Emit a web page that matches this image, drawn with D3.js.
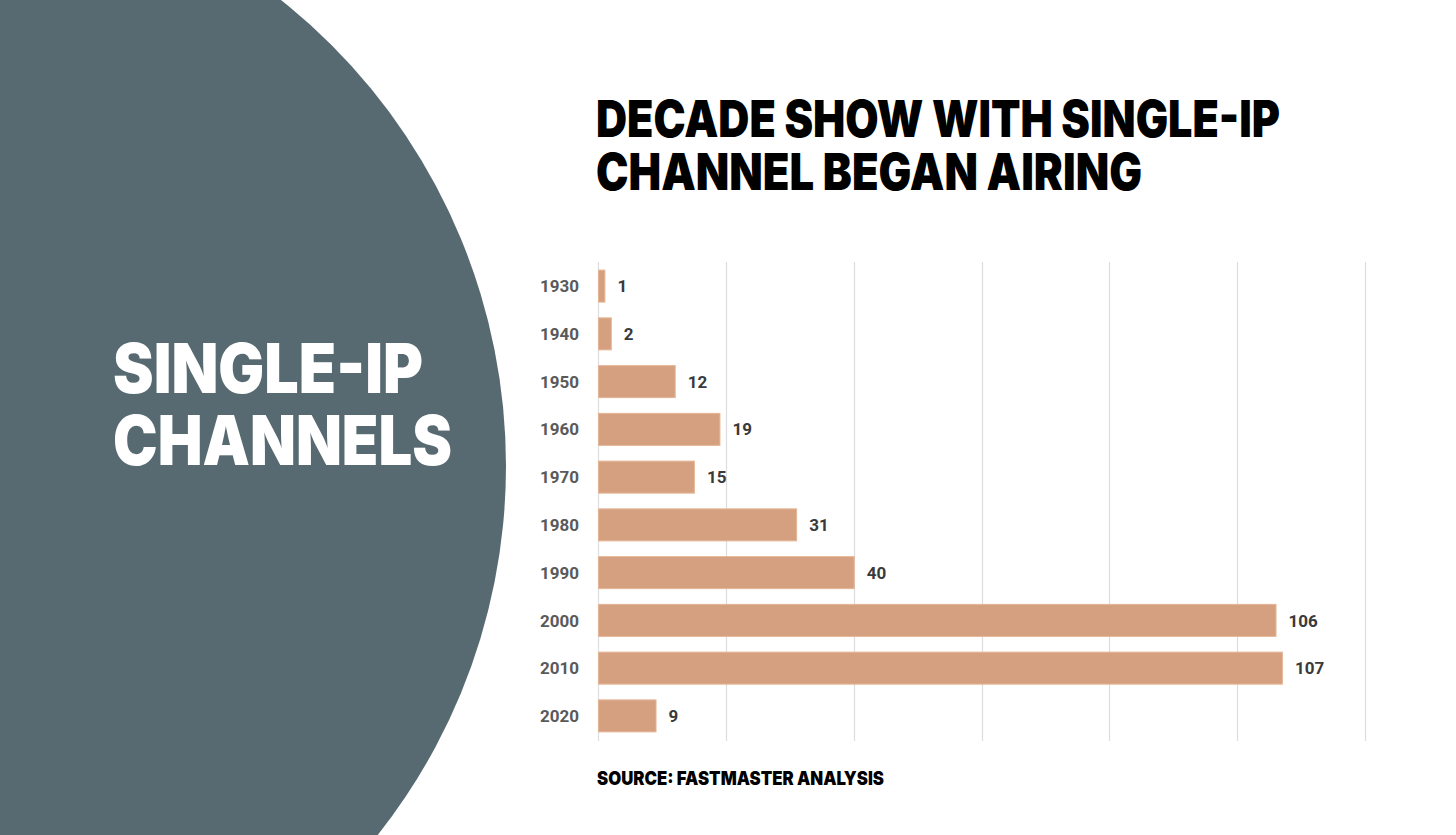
<!DOCTYPE html>
<html>
<head>
<meta charset="utf-8">
<script src="https://cdn.jsdelivr.net/npm/d3@7"></script>
<style>
  html, body { margin: 0; padding: 0; background: #ffffff; }
  svg { display: block; }
</style>
</head>
<body>
<svg id="chart"></svg>
<script>
// decades and number of shows
var decades = ['1930', '1940', '1950', '1960', '1970', '1980', '1990', '2000', '2010', '2020'];
var shows = [1, 2, 12, 19, 15, 31, 40, 106, 107, 9];
var gridTicks = [0, 20, 40, 60, 80, 100, 120];
var titleLines = ['DECADE SHOW WITH SINGLE-IP', 'CHANNEL BEGAN AIRING'];
var sideLines = ['SINGLE-IP', 'CHANNELS'];

var W = 1456, H = 835;
var svg = d3.select('#chart').attr('width', W).attr('height', H);

// big dark circle on the left
svg.append('circle')
  .attr('cx', -89)
  .attr('cy', 466)
  .attr('r', 595)
  .attr('fill', '#586a71');

svg.selectAll('text.side').data(sideLines)
  .enter().append('text')
    .attr('class', 'side')
    .attr('x', 113)
    .attr('y', function(d, i) { return 393 + i * 72; })
    .attr('textLength', function(d, i) { return i === 0 ? 310 : 339; })
    .attr('lengthAdjust', 'spacingAndGlyphs')
    .attr('font-family', 'Inter, Roboto, sans-serif')
    .attr('font-weight', 900)
    .attr('font-size', 69)
    .attr('fill', '#ffffff')
    .text(function(d) { return d; });

svg.selectAll('text.title').data(titleLines)
  .enter().append('text')
    .attr('class', 'title')
    .attr('x', 596)
    .attr('y', function(d, i) { return 137 + i * 53; })
    .attr('textLength', function(d, i) { return i === 0 ? 684 : 546; })
    .attr('lengthAdjust', 'spacingAndGlyphs')
    .attr('font-family', 'Inter, Roboto, sans-serif')
    .attr('font-weight', 900)
    .attr('font-size', 51)
    .attr('fill', '#000000')
    .text(function(d) { return d; });

var x = d3.scaleLinear().domain([0, 120]).range([598, 1365]);
var y = d3.scaleBand().domain(decades).range([262, 740]).paddingInner(0.33).paddingOuter(0.17);

// gridlines
svg.append('g').selectAll('line').data(gridTicks)
  .enter().append('line')
    .attr('x1', function(d) { return Math.round(x(d)) + 0.5; })
    .attr('x2', function(d) { return Math.round(x(d)) + 0.5; })
    .attr('y1', 262)
    .attr('y2', 741)
    .attr('stroke', '#dddddd')
    .attr('stroke-width', 1.2);

var rows = decades.map(function(d, i) { return {decade: d, value: shows[i]}; });

svg.append('g').selectAll('rect').data(rows)
  .enter().append('rect')
    .attr('x', x(0) + 0.5)
    .attr('y', function(d) { return y(d.decade); })
    .attr('width', function(d) { return x(d.value) - x(0); })
    .attr('height', y.bandwidth())
    .attr('fill', '#d4a080')
    .attr('stroke', '#e6b596')
    .attr('stroke-width', 1);

// decade labels
svg.append('g').selectAll('text').data(rows)
  .enter().append('text')
    .attr('x', 579)
    .attr('y', function(d) { return y(d.decade) + y.bandwidth() / 2; })
    .attr('dy', '0.36em')
    .attr('text-anchor', 'end')
    .attr('font-family', 'Roboto, Inter, sans-serif')
    .attr('font-weight', 700)
    .attr('font-size', 17)
    .attr('fill', '#5a5a5a')
    .text(function(d) { return d.decade; });

// value labels
svg.append('g').selectAll('text').data(rows)
  .enter().append('text')
    .attr('x', function(d) { return x(d.value) + 13; })
    .attr('y', function(d) { return y(d.decade) + y.bandwidth() / 2; })
    .attr('dy', '0.36em')
    .attr('font-family', 'Roboto, Inter, sans-serif')
    .attr('font-weight', 700)
    .attr('font-size', 17)
    .attr('fill', '#3a3a3a')
    .text(function(d) { return d.value; });

svg.append('text')
  .attr('x', 597)
  .attr('y', 785)
  .attr('textLength', 287)
  .attr('lengthAdjust', 'spacingAndGlyphs')
  .attr('font-family', 'Inter, Roboto, sans-serif')
  .attr('font-weight', 900)
  .attr('font-size', 19)
  .attr('fill', '#000000')
  .text('SOURCE: FASTMASTER ANALYSIS');
</script>
</body>
</html>
